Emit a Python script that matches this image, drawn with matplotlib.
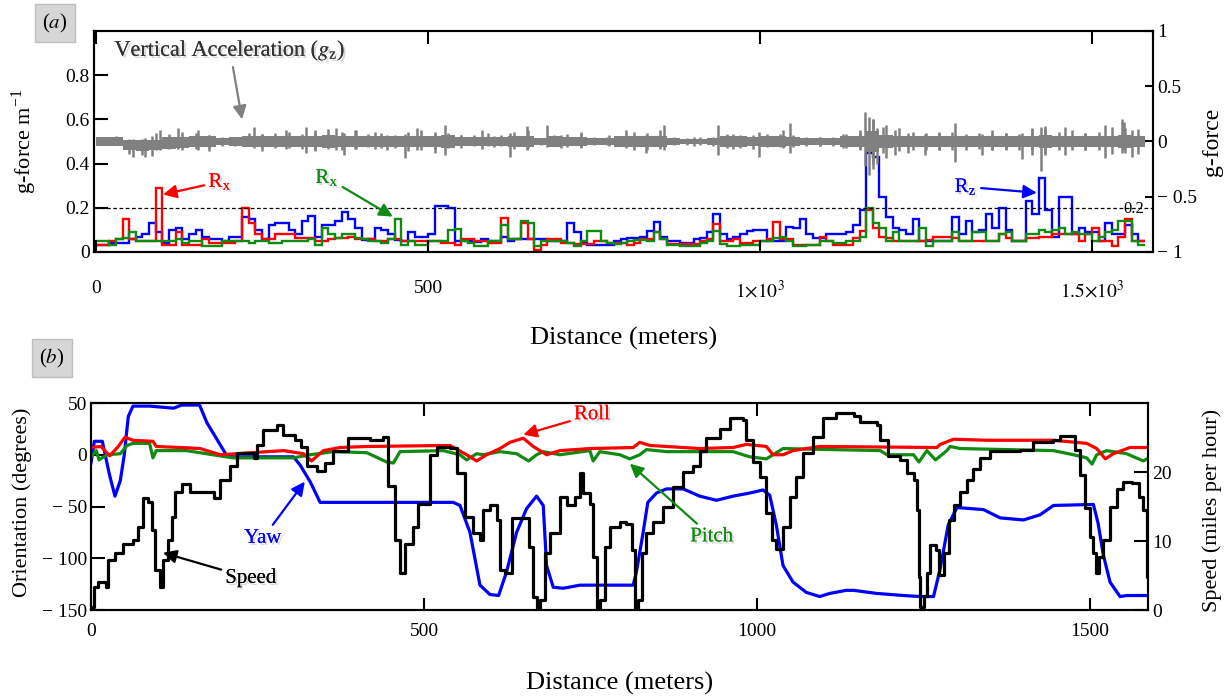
import numpy as np
import matplotlib.pyplot as plt
import matplotlib.patheffects as pe

plt.rcParams['font.family'] = ['Liberation Serif', 'DejaVu Serif']
plt.rcParams['mathtext.fontset'] = 'stix'

# ---- panel (a): roughness per 10 m bin (g-force / m) ----
bin_width = 10
rz = [0.03, 0.03, 0.04, 0.04, 0.04, 0.06, 0.07, 0.08, 0.13, 0.09,
      0.04, 0.10, 0.11, 0.06, 0.08, 0.10, 0.07, 0.06, 0.06, 0.05,
      0.07, 0.07, 0.16, 0.15, 0.10, 0.06, 0.12, 0.13, 0.13, 0.10,
      0.08, 0.14, 0.165, 0.07, 0.12, 0.12, 0.14, 0.18, 0.15, 0.11,
      0.055, 0.06, 0.11, 0.10, 0.08, 0.055, 0.05, 0.09, 0.07, 0.07,
      0.08, 0.21, 0.21, 0.20, 0.05, 0.05, 0.05, 0.045, 0.06, 0.05,
      0.05, 0.07, 0.05, 0.06, 0.06, 0.06, 0.06, 0.06, 0.05, 0.05,
      0.05, 0.13, 0.09, 0.04, 0.03, 0.03, 0.03, 0.03, 0.05, 0.06,
      0.065, 0.065, 0.07, 0.095, 0.135, 0.07, 0.05, 0.05, 0.04, 0.04,
      0.06, 0.065, 0.09, 0.17, 0.08, 0.06, 0.07, 0.08, 0.095, 0.10,
      0.10, 0.05, 0.05, 0.05, 0.115, 0.11, 0.15, 0.08, 0.065, 0.065,
      0.08, 0.08, 0.08, 0.09, 0.12, 0.19, 0.45, 0.43, 0.25, 0.16,
      0.11, 0.10, 0.08, 0.15, 0.05, 0.05, 0.05, 0.05, 0.05, 0.16,
      0.08, 0.14, 0.09, 0.10, 0.17, 0.11, 0.20, 0.10, 0.05, 0.05,
      0.23, 0.17, 0.335, 0.19, 0.07, 0.25, 0.25, 0.08, 0.11, 0.09,
      0.09, 0.05, 0.13, 0.08, 0.08, 0.12, 0.08, 0.05]
rx_red = [0.03, 0.03, 0.05, 0.06, 0.15, 0.06, 0.05, 0.05, 0.05, 0.29,
          0.03, 0.03, 0.09, 0.03, 0.03, 0.03, 0.06, 0.04, 0.04, 0.04,
          0.04, 0.05, 0.20, 0.13, 0.08, 0.06, 0.06, 0.08, 0.08, 0.08,
          0.065, 0.065, 0.065, 0.05, 0.05, 0.06, 0.065, 0.065, 0.07, 0.06,
          0.06, 0.06, 0.05, 0.05, 0.06, 0.06, 0.05, 0.05, 0.05, 0.05,
          0.05, 0.05, 0.04, 0.04, 0.03, 0.06, 0.06, 0.05, 0.05, 0.04,
          0.04, 0.155, 0.06, 0.06, 0.13, 0.06, 0.01, 0.03, 0.06, 0.06,
          0.04, 0.04, 0.035, 0.035, 0.035, 0.05, 0.05, 0.04, 0.04, 0.04,
          0.03, 0.04, 0.06, 0.06, 0.09, 0.06, 0.035, 0.035, 0.035, 0.035,
          0.035, 0.05, 0.06, 0.125, 0.05, 0.05, 0.06, 0.04, 0.04, 0.05,
          0.05, 0.06, 0.135, 0.06, 0.06, 0.03, 0.03, 0.03, 0.03, 0.07,
          0.05, 0.03, 0.03, 0.03, 0.065, 0.095, 0.19, 0.11, 0.07, 0.065,
          0.05, 0.05, 0.05, 0.05, 0.05, 0.055, 0.07, 0.07, 0.07, 0.065,
          0.05, 0.05, 0.05, 0.05, 0.05, 0.05, 0.08, 0.065, 0.05, 0.05,
          0.065, 0.065, 0.07, 0.07, 0.08, 0.08, 0.08, 0.08, 0.05, 0.08,
          0.11, 0.05, 0.05, 0.025, 0.07, 0.15, 0.05, 0.05]
rx_green = [0.05, 0.05, 0.03, 0.06, 0.065, 0.09, 0.05, 0.05, 0.05, 0.05,
            0.05, 0.05, 0.06, 0.04, 0.05, 0.05, 0.025, 0.025, 0.025, 0.05,
            0.05, 0.05, 0.05, 0.04, 0.05, 0.05, 0.04, 0.04, 0.05, 0.05,
            0.05, 0.05, 0.06, 0.03, 0.11, 0.08, 0.065, 0.08, 0.08, 0.065,
            0.06, 0.05, 0.05, 0.04, 0.06, 0.15, 0.03, 0.05, 0.03, 0.03,
            0.05, 0.05, 0.05, 0.10, 0.105, 0.05, 0.04, 0.025, 0.025, 0.05,
            0.05, 0.12, 0.06, 0.06, 0.14, 0.13, 0.025, 0.05, 0.05, 0.05,
            0.05, 0.04, 0.025, 0.05, 0.095, 0.095, 0.05, 0.04, 0.035, 0.04,
            0.05, 0.055, 0.055, 0.05, 0.09, 0.06, 0.03, 0.03, 0.025, 0.025,
            0.025, 0.04, 0.05, 0.095, 0.035, 0.025, 0.025, 0.03, 0.03, 0.03,
            0.05, 0.05, 0.065, 0.07, 0.05, 0.025, 0.025, 0.03, 0.03, 0.05,
            0.05, 0.04, 0.04, 0.05, 0.05, 0.07, 0.20, 0.13, 0.11, 0.05,
            0.09, 0.05, 0.05, 0.05, 0.11, 0.025, 0.05, 0.05, 0.05, 0.09,
            0.05, 0.05, 0.09, 0.09, 0.05, 0.05, 0.08, 0.09, 0.05, 0.05,
            0.08, 0.08, 0.10, 0.09, 0.10, 0.11, 0.08, 0.09, 0.08, 0.08,
            0.05, 0.07, 0.09, 0.10, 0.14, 0.14, 0.05, 0.03]

# vertical acceleration gz (g), per 20 m: centre, dense core half-width, peak excursions
gz_step = 20
gz_mid = [0, 0, -0.03, -0.035, -0.03, -0.015, -0.01, 0, 0, 0,
          0, 0, 0, 0, 0, 0, 0, 0, 0, 0,
          0, 0, 0, 0, 0, 0, 0, 0, 0, 0,
          0, 0, 0, 0, 0, 0, 0, 0, 0, 0,
          0, 0, 0, 0, 0, 0, 0, 0, 0, 0,
          0, 0, 0, 0, 0, 0, 0, 0, 0, 0,
          0, 0, 0, 0, 0, 0, 0, 0, 0, 0,
          0, 0, 0, 0, 0, 0, 0, 0, 0]
gz_core = [0.037, 0.037, 0.047, 0.052, 0.047, 0.052, 0.052, 0.047, 0.047, 0.032,
           0.037, 0.047, 0.047, 0.047, 0.052, 0.052, 0.052, 0.057, 0.052, 0.052,
           0.047, 0.047, 0.052, 0.052, 0.052, 0.047, 0.057, 0.037, 0.037, 0.037,
           0.042, 0.052, 0.052, 0.030, 0.047, 0.037, 0.042, 0.030, 0.030, 0.047,
           0.052, 0.052, 0.052, 0.030, 0.027, 0.027, 0.030, 0.047, 0.047, 0.037,
           0.047, 0.047, 0.037, 0.030, 0.030, 0.030, 0.047, 0.052, 0.092, 0.062,
           0.052, 0.047, 0.047, 0.052, 0.052, 0.047, 0.047, 0.052, 0.047, 0.052,
           0.052, 0.062, 0.047, 0.047, 0.047, 0.052, 0.052, 0.062, 0.047]
gz_peak_hi = [0.045, 0.05, 0.02, 0.02, 0.08, 0.07, 0.09, 0.08, 0.06, 0.04,
              0.04, 0.08, 0.07, 0.08, 0.09, 0.07, 0.10, 0.11, 0.09, 0.10,
              0.07, 0.08, 0.06, 0.09, 0.10, 0.09, 0.08, 0.06, 0.06, 0.08,
              0.06, 0.09, 0.10, 0.03, 0.06, 0.07, 0.08, 0.04, 0.04, 0.05,
              0.09, 0.08, 0.10, 0.04, 0.03, 0.04, 0.04, 0.07, 0.06, 0.06,
              0.07, 0.07, 0.06, 0.04, 0.04, 0.04, 0.07, 0.08, 0.20, 0.15,
              0.12, 0.09, 0.08, 0.09, 0.09, 0.07, 0.08, 0.07, 0.08, 0.07,
              0.12, 0.12, 0.09, 0.10, 0.08, 0.09, 0.13, 0.12, 0.11]
gz_peak_lo = [-0.03, -0.035, -0.11, -0.12, -0.08, -0.07, -0.08, -0.07, -0.06, -0.04,
              -0.04, -0.04, -0.05, -0.06, -0.06, -0.07, -0.08, -0.07, -0.08, -0.07,
              -0.05, -0.06, -0.06, -0.09, -0.08, -0.07, -0.06, -0.03, -0.04, -0.04,
              -0.04, -0.07, -0.06, -0.03, -0.04, -0.05, -0.05, -0.03, -0.03, -0.04,
              -0.08, -0.08, -0.07, -0.03, -0.03, -0.03, -0.04, -0.06, -0.06, -0.07,
              -0.05, -0.05, -0.05, -0.04, -0.04, -0.04, -0.06, -0.07, -0.20, -0.15,
              -0.09, -0.08, -0.08, -0.08, -0.08, -0.08, -0.07, -0.08, -0.07, -0.08,
              -0.12, -0.12, -0.08, -0.08, -0.08, -0.08, -0.11, -0.10, -0.11]
spike_d = [56, 74, 84, 96, 123, 153, 170, 238, 250, 286, 316, 330, 361, 373,
           391, 420, 438, 465, 483, 511, 526, 550, 581, 600, 624, 649, 680,
           700, 731, 772, 799, 829, 855, 900, 937, 960, 998, 1035, 1045,
           1090, 1125, 1150, 1158, 1164, 1170, 1176, 1186, 1203, 1223, 1249,
           1270, 1294, 1334, 1349, 1370, 1394, 1410, 1423, 1429, 1460, 1490,
           1520, 1546, 1549, 1560]
spike_hi = [0.02, 0.03, 0.05, 0.10, 0.12, 0.10, 0.06, 0.13, 0.07, 0.10, 0.13,
            0.08, 0.12, 0.08, 0.10, 0.09, 0.06, 0.07, 0.12, 0.07, 0.15, 0.06,
            0.10, 0.05, 0.08, 0.14, 0.15, 0.06, 0.09, 0.06, 0.10, 0.06, 0.15,
            0.04, 0.15, 0.07, 0.09, 0.10, 0.17, 0.04, 0.07, 0.10, 0.27, 0.22,
            0.20, 0.12, 0.13, 0.10, 0.08, 0.07, 0.08, 0.17, 0.07, 0.10, 0.08,
            0.08, 0.11, 0.13, 0.14, 0.13, 0.08, 0.15, 0.20, 0.18, 0.10]
spike_lo = [-0.14, -0.14, -0.13, -0.08, -0.07, -0.08, -0.09, -0.06, -0.09,
            -0.07, -0.10, -0.09, -0.08, -0.12, -0.07, -0.07, -0.08, -0.15,
            -0.08, -0.10, -0.12, -0.06, -0.07, -0.05, -0.14, -0.08, -0.05,
            -0.06, -0.06, -0.04, -0.06, -0.10, -0.08, -0.04, -0.12, -0.07,
            -0.14, -0.06, -0.10, -0.04, -0.06, -0.08, -0.22, -0.30, -0.25,
            -0.20, -0.10, -0.12, -0.10, -0.12, -0.08, -0.19, -0.12, -0.08,
            -0.08, -0.16, -0.08, -0.27, -0.10, -0.12, -0.08, -0.15, -0.10,
            -0.08, -0.14]

# ---- panel (b): orientation (degrees) and speed (mph) ----
yaw_d = [0, 5, 17, 28, 36, 44, 50, 56, 63, 88, 124, 136, 163, 174, 189, 203,
         213, 304, 314, 329, 344, 464, 544, 554, 569, 584, 599, 612, 624, 639,
         654, 669, 679, 684, 694, 709, 734, 814, 819, 829, 836, 849, 864, 889,
         914, 939, 964, 989, 1009, 1019, 1029, 1039, 1054, 1074, 1094, 1109,
         1134, 1145, 1180, 1220, 1245, 1265, 1275, 1287, 1300, 1340, 1365,
         1400, 1425, 1445, 1505, 1512, 1520, 1530, 1545, 1555, 1583]
yaw_deg = [-8, 13, 13, -20, -40, -25, 0, 37, 47, 47, 45, 48, 48, 31, 15, 0,
           -2, -2, -10, -26, -46, -46, -46, -49, -75, -126, -135, -136, -113,
           -75, -52, -40, -49, -107, -128, -129, -126, -126, -113, -75, -46,
           -37, -33, -33, -40, -44, -40, -37, -34, -39, -68, -107, -123, -133,
           -137, -134, -131, -131, -134, -136, -137, -137, -110, -68, -51,
           -53, -61, -63, -58, -49, -48, -66, -97, -123, -137, -136, -136]
roll_d = [0, 15, 28, 41, 51, 63, 93, 98, 134, 164, 194, 289, 319, 331, 349,
          374, 414, 539, 564, 579, 594, 614, 629, 649, 664, 684, 704, 749, 814,
          824, 839, 914, 964, 984, 1014, 1024, 1039, 1054, 1094, 1270, 1275,
          1295, 1345, 1445, 1495, 1510, 1523, 1535, 1560, 1588]
roll_deg = [7, 8, -1, 8, 17, 14, 13, 8, 7, 6, 0, 4, 1, -6, 4, 7, 8, 9, 0, -6,
            0, 6, 12, 16, 8, 0, 4, 6, 7, 12, 9, 6, 7, 10, 8, 0, 0, 4, 8, 7,
            10, 15, 14, 14, 11, 6, -4, 1, 7, 7]
pitch_d = [0, 8, 12, 24, 44, 54, 63, 88, 93, 98, 143, 183, 213, 304, 329, 364,
           414, 444, 454, 464, 529, 554, 564, 579, 589, 614, 639, 657, 669,
           679, 704, 749, 754, 764, 794, 809, 824, 834, 864, 964, 989, 1014,
           1039, 1185, 1195, 1235, 1243, 1255, 1268, 1285, 1290, 1305, 1445,
           1475, 1495, 1503, 1510, 1525, 1555, 1580, 1588]
pitch_deg = [-2, 4, -5, 0, 1, 9, 11, 11, -3, 4, 4, 0, -3, -3, 0, 3, 2, -7, -8,
             3, 4, 0, -5, 1, 0, 3, 1, -6, 0, 3, 0, 4, -6, 3, 0, -4, 0, 5, 3, 3,
             -2, -4, 6, 4, 0, 0, -7, 4, -5, 4, 8, 6, 4, 0, -3, -9, 0, 4, 1, -6,
             -3]
speed_d = [0, 5, 10, 23, 26, 36, 48, 63, 71, 78, 86, 91, 96, 104, 108, 116,
           121, 126, 136, 149, 184, 194, 209, 219, 244, 249, 259, 279, 289,
           306, 316, 324, 339, 351, 364, 386, 419, 439, 446, 456, 464, 471,
           484, 491, 509, 519, 539, 549, 561, 574, 584, 589, 599, 609, 614,
           621, 632, 649, 657, 664, 669, 674, 682, 689, 704, 714, 726, 734,
           739, 749, 754, 759, 764, 772, 779, 794, 804, 812, 817, 822, 827,
           834, 844, 859, 874, 889, 904, 914, 924, 944, 959, 979, 984, 994,
           1004, 1014, 1022, 1029, 1039, 1049, 1059, 1069, 1084, 1099, 1119,
           1145, 1155, 1180, 1185, 1197, 1215, 1225, 1235, 1240, 1243, 1245,
           1250, 1255, 1260, 1268, 1273, 1280, 1288, 1295, 1305, 1315, 1325,
           1335, 1350, 1395, 1415, 1445, 1455, 1478, 1485, 1493, 1500, 1505,
           1509, 1513, 1520, 1530, 1540, 1550, 1563, 1573, 1580, 1585, 1588]
speed_mph = [0.4, 3.4, 4.1, 3.4, 7.2, 8.2, 9.6, 10.1, 12.1, 16.2,
             15.7, 11.6, 5.8, 3.4, 7.2, 10.1, 13.5, 17.1, 18.3, 17.1,
             16.2, 18.8, 20.8, 22.7, 22.0, 23.9, 26.1, 26.8, 25.4, 24.6,
             23.6, 20.8, 20.1, 21.3, 23.0, 24.9, 24.7, 25.1, 17.9, 10.1,
             5.3, 9.6, 12.1, 15.4, 22.5, 23.6, 23.5, 19.9, 13.5, 11.1,
             10.1, 14.5, 15.2, 13.0, 5.8, 5.3, 13.3, 13.3, 9.2, 1.9,
             0.2, 1.5, 8.2, 11.1, 16.4, 15.2, 16.4, 19.9, 16.9, 15.4,
             7.7, 0.2, 1.5, 9.2, 12.1, 12.8, 12.5, 8.7, 0.2, 1.5,
             8.2, 11.1, 12.8, 14.9, 17.8, 20.0, 20.9, 23.1, 24.9, 26.3,
             27.8, 27.6, 24.6, 21.5, 19.3, 14.0, 10.1, 8.9, 12.1, 16.4,
             19.3, 22.7, 25.1, 27.8, 28.6, 28.1, 27.3, 26.8, 24.6, 22.3,
             21.7, 19.8, 18.8, 14.5, 4.8, 0.5, 2.0, 5.3, 9.4, 8.7,
             5.1, 8.2, 13.0, 15.2, 17.1, 18.8, 20.5, 22.0, 23.0, 23.2,
             24.4, 24.6, 25.2, 23.2, 19.5, 14.8, 10.6, 8.2, 5.3, 7.7,
             10.1, 14.9, 17.6, 18.6, 18.4, 16.4, 14.5, 4.8, 0.5]

BLUE, RED, GREEN, GRAY = '#0000ff', '#ff0000', '#108a10', '#808080'


def minus_fmt(v):
    if v < 0:
        return '\u2212 ' + f'{abs(v):g}'
    return f'{v:g}'


def arrow(c):
    return dict(arrowstyle='-|>', color=c, lw=1.6, mutation_scale=20, shrinkA=1, shrinkB=0)


shadow = [pe.withSimplePatchShadow(offset=(1.5, -1.5), shadow_rgbFace='0.55', alpha=0.35), pe.Normal()]

fig = plt.figure(figsize=(12.3, 6.98), dpi=100)

# ================= panel (a) =================
ax1 = fig.add_axes([0.07642, 0.63897, 0.86098, 0.31662])
edges = np.arange(len(rz) + 1) * bin_width
ax1.stairs(rz, edges, color=BLUE, lw=1.7, baseline=None)
ax1.stairs(rx_red, edges, color=RED, lw=1.7, baseline=None)
ax1.stairs(rx_green, edges, color=GREEN, lw=1.7, baseline=None)
ax1.axhline(0.2, color='k', lw=0.9, ls=(0, (3, 2)))
ax1.set_xlim(-3, 1592)
ax1.set_ylim(0, 1.0)
ax1.set_yticks([0, 0.2, 0.4, 0.6, 0.8])
ax1.set_yticklabels([minus_fmt(v) for v in [0, 0.2, 0.4, 0.6, 0.8]])
ax1.set_xticks([0, 500, 1000, 1500])
ax1.set_xticklabels(['0', '500', r'$1{\times}10^{3}$', r'$1.5{\times}10^{3}$'])
for lab in ax1.get_xticklabels()[2:]:
    lab.set_fontsize(16)
ax1.tick_params(axis='x', direction='in', length=9, width=1.5, top=True, labelsize=14, pad=20)
ax1.tick_params(axis='y', direction='in', length=10, width=1.5, labelsize=14, pad=3)
ax1.set_xlabel('Distance (meters)', fontsize=19, va='center')
ax1.xaxis.set_label_coords(0.5, -0.389)
ax1.set_ylabel(r'g-force m$^{\mathregular{-1}}$', fontsize=16, va='center')
ax1.yaxis.set_label_coords(-0.066, 0.5)
ax1.text(1563, 0.196, '0.2', fontsize=12, ha='center', va='center')

ax1r = ax1.twinx()
gz_x = np.arange(len(gz_core) + 1) * gz_step
gz_c = gz_x[:-1] + gz_step / 2
mid = np.array(gz_mid + [gz_mid[-1]])
core = np.array(gz_core + [gz_core[-1]])
ax1r.fill_between(gz_x, mid - core, mid + core, step='post', color=GRAY, lw=0)
ax1r.vlines(gz_c, gz_peak_lo, gz_peak_hi, color=GRAY, lw=1.8)
ax1r.vlines(spike_d, spike_lo, spike_hi, color=GRAY, lw=1.8)
ax1r.set_ylim(-1, 1)
ax1r.set_yticks([-1, -0.5, 0, 0.5, 1])
ax1r.set_yticklabels([minus_fmt(v) for v in [-1, -0.5, 0, 0.5, 1]])
ax1r.tick_params(axis='y', direction='in', length=6, width=1.5, labelsize=14, pad=3)
ax1r.set_ylabel('g-force', fontsize=17, va='center')
ax1r.yaxis.set_label_coords(1.056, 0.5)
for ax in (ax1, ax1r):
    for s in ax.spines.values():
        s.set_linewidth(1.5)

ax1r.annotate(r'Vertical Acceleration ($g_{\mathregular{z}}$)', xy=(220, 0.2), xytext=(202, 0.82),
              fontsize=16, ha='center', va='center', color='#333333', path_effects=shadow,
              arrowprops=arrow(GRAY))
ax1.annotate(r'R$_{\mathregular{x}}$', xy=(101, 0.26), xytext=(187, 0.318), fontsize=15, color=RED,
             ha='center', va='center', path_effects=shadow, arrowprops=arrow(RED))
ax1.annotate(r'R$_{\mathregular{x}}$', xy=(447, 0.16), xytext=(348, 0.336), fontsize=15, color=GREEN,
             ha='center', va='center', path_effects=shadow, arrowprops=arrow(GREEN))
ax1.annotate(r'R$_{\mathregular{z}}$', xy=(1417, 0.268), xytext=(1310, 0.295), fontsize=15, color=BLUE,
             ha='center', va='center', path_effects=shadow, arrowprops=arrow(BLUE))

# ================= panel (b) =================
ax2 = fig.add_axes([0.07398, 0.12607, 0.85935, 0.29656])
ax2.plot(yaw_d, yaw_deg, color=BLUE, lw=2.3)
ax2.plot(pitch_d, pitch_deg, color=GREEN, lw=2.3)
ax2.plot(roll_d, roll_deg, color=RED, lw=2.3)
ax2.set_xlim(0, 1587)
ax2.set_ylim(-150, 50)
ax2.set_yticks([-150, -100, -50, 0, 50])
ax2.set_yticklabels([minus_fmt(v) for v in [-150, -100, -50, 0, 50]])
ax2.set_xticks([0, 500, 1000, 1500])
ax2.tick_params(axis='x', direction='in', length=9, width=1.5, top=True, labelsize=14, pad=9)
ax2.tick_params(axis='y', direction='in', length=10, width=1.5, labelsize=14, pad=3)
ax2.set_xlabel('Distance (meters)', fontsize=19, va='center')
ax2.xaxis.set_label_coords(0.5, -0.353)
ax2.set_ylabel('Orientation (degrees)', fontsize=16, va='center')
ax2.yaxis.set_label_coords(-0.065, 0.52)

ax2r = ax2.twinx()
ax2r.plot(speed_d, speed_mph, color='black', lw=2.3, drawstyle='steps-post')
ax2r.set_ylim(0, 30)
ax2r.set_yticks([0, 10, 20])
ax2r.tick_params(axis='y', direction='in', length=10, width=1.5, labelsize=14, pad=3)
ax2r.set_ylabel('Speed (miles per hour)', fontsize=16, va='center')
ax2r.yaxis.set_label_coords(1.061, 0.483)
for ax in (ax2, ax2r):
    for s in ax.spines.values():
        s.set_linewidth(1.5)

ann = dict(fontsize=15, ha='center', va='center', path_effects=shadow)
ax2r.annotate('Roll', xy=(649, 25.4), xytext=(752, 28.3), color=RED, arrowprops=arrow(RED), **ann)
ax2r.annotate('Pitch', xy=(809, 21.2), xytext=(932, 10.6), color=GREEN, arrowprops=arrow(GREEN), **ann)
ax2r.annotate('Yaw', xy=(321, 18.6), xytext=(258, 10.4), color=BLUE, arrowprops=arrow(BLUE), **ann)
ax2r.annotate('Speed', xy=(108, 8.3), xytext=(240, 4.6), color='black', arrowprops=arrow('black'), **ann)

box = dict(boxstyle='square,pad=0.35', fc='#d6d6d6', ec='#bdbdbd', lw=1)
fig.text(55 / 1230, 1 - 23 / 698, r'($a$)', fontsize=15, ha='center', va='center', bbox=box)
fig.text(52 / 1230, 1 - 358 / 698, r'($b$)', fontsize=15, ha='center', va='center', bbox=box)

fig.savefig('out.png', dpi=100)
